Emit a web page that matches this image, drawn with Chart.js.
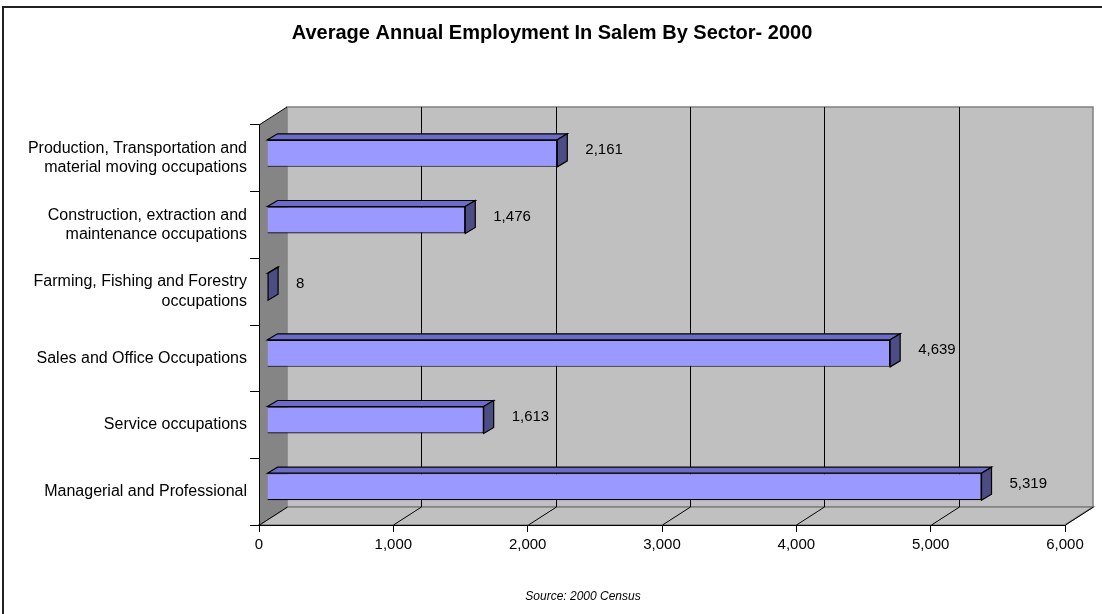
<!DOCTYPE html>
<html>
<head>
<meta charset="utf-8">
<script src="https://cdn.jsdelivr.net/npm/chart.js@4"></script>
<style>
  html, body { margin: 0; padding: 0; background: #fff; }
  #wrap { width: 1102px; height: 614px; }
</style>
</head>
<body>
<div id="wrap"><canvas id="myChart" width="1102" height="614"></canvas></div>
<script>
// data
const categories = [
    ['Production, Transportation and', 'material moving occupations'],
    ['Construction, extraction and', 'maintenance occupations'],
    ['Farming, Fishing and Forestry', 'occupations'],
    'Sales and Office Occupations',
    'Service occupations',
    'Managerial and Professional'
];
const employment = [2161, 1476, 8, 4639, 1613, 5319];
const axisMin = 0;
const axisMax = 6000;
const axisStep = 1000;
const chartTitle = 'Average Annual Employment In Salem By Sector- 2000';
const sourceNote = 'Source: 2000 Census';

const FONT = '"Liberation Sans", Arial, sans-serif';
Chart.defaults.font.family = FONT;
Chart.defaults.color = '#000';

// depth of the 3d box and of the bars
const wallDepth = { x: 28, y: -18 };
const barShift = { x: 8, y: -5 };
const barDepth = { x: 10, y: -6 };

const fmt = (v) => v.toLocaleString('en-US');

const poly = (ctx, pts, fill, stroke, lw) => {
    ctx.beginPath();
    ctx.moveTo(pts[0][0], pts[0][1]);
    for (let i = 1; i < pts.length; i++) ctx.lineTo(pts[i][0], pts[i][1]);
    ctx.closePath();
    if (fill) { ctx.fillStyle = fill; ctx.fill(); }
    if (stroke) { ctx.strokeStyle = stroke; ctx.lineWidth = lw || 1; ctx.stroke(); }
};

const box3d = {
    id: 'box3d',
    beforeDraw(chart) {
        const { ctx, chartArea: a, scales } = chart;
        const dx = wallDepth.x, dy = wallDepth.y;
        ctx.save();
        // outer frame
        ctx.strokeStyle = '#222';
        ctx.lineWidth = 2;
        ctx.beginPath();
        ctx.moveTo(3, chart.height);
        ctx.lineTo(3, 7);
        ctx.lineTo(chart.width, 7);
        ctx.stroke();

        // back wall
        poly(ctx, [[a.left + dx, a.top + dy], [a.right + dx, a.top + dy],
                   [a.right + dx, a.bottom + dy], [a.left + dx, a.bottom + dy]], '#c0c0c0', '#808080', 1.5);
        // floor
        poly(ctx, [[a.left, a.bottom], [a.left + dx, a.bottom + dy],
                   [a.right + dx, a.bottom + dy], [a.right, a.bottom]], '#c0c0c0', '#808080', 1.5);
        // side wall
        poly(ctx, [[a.left, a.top], [a.left + dx, a.top + dy],
                   [a.left + dx, a.bottom + dy], [a.left, a.bottom]], '#858585', null);
        ctx.strokeStyle = '#000';
        ctx.lineWidth = 1;
        ctx.beginPath();
        ctx.moveTo(a.left, a.top);
        ctx.lineTo(a.left + dx, a.top + dy);
        ctx.stroke();

        // gridlines on the back wall and floor
        const xs = scales.x;
        xs.ticks.forEach((t) => {
            const px = Math.round(xs.getPixelForValue(t.value)) + 0.5;
            ctx.strokeStyle = '#000';
            ctx.lineWidth = 1;
            ctx.beginPath();
            ctx.moveTo(px, a.bottom);
            ctx.lineTo(px + dx, a.bottom + dy);
            if (t.value > axisMin && t.value < axisMax) {
                ctx.lineTo(px + dx, a.top + dy);
            }
            ctx.stroke();
        });
        ctx.restore();
    },
    beforeDatasetsDraw(chart) {
        chart.ctx.save();
        chart.ctx.translate(barShift.x, barShift.y);
    },
    afterDatasetsDraw(chart) {
        const ctx = chart.ctx;
        const meta = chart.getDatasetMeta(0);
        meta.data.forEach((bar) => {
            const p = bar.getProps(['x', 'y', 'base', 'height'], true);
            const top = p.y - p.height / 2, bottom = p.y + p.height / 2;
            const dx = barDepth.x, dy = barDepth.y;
            poly(ctx, [[p.base, top], [p.base + dx, top + dy], [p.x + dx, top + dy], [p.x, top]],
                 '#6c6cc6', '#000', 1.2);
            poly(ctx, [[p.x, top], [p.x + dx, top + dy], [p.x + dx, bottom + dy], [p.x, bottom]],
                 '#4d4d85', '#000', 1.2);
        });
        ctx.restore();

        // value labels
        ctx.save();
        ctx.font = '15px ' + FONT;
        ctx.fillStyle = '#000';
        ctx.textAlign = 'left';
        ctx.textBaseline = 'middle';
        meta.data.forEach((bar, i) => {
            const p = bar.getProps(['x', 'y'], true);
            ctx.fillText(fmt(employment[i]), p.x + barShift.x + barDepth.x + 18, p.y + barShift.y - 3);
        });
        ctx.restore();
    },
    afterDraw(chart) {
        const ctx = chart.ctx;
        ctx.save();
        ctx.fillStyle = '#000';
        ctx.textAlign = 'center';
        ctx.textBaseline = 'middle';
        ctx.font = 'bold 20px ' + FONT;
        ctx.fillText(chartTitle, 552, 33);
        ctx.font = 'italic 12px ' + FONT;
        ctx.fillText(sourceNote, 583, 597);
        ctx.restore();
    }
};

new Chart(document.getElementById('myChart'), {
    type: 'bar',
    data: {
        labels: categories,
        datasets: [{
            label: 'Employment',
            data: employment,
            backgroundColor: '#9999ff',
            borderColor: '#000',
            borderWidth: 1.2,
            categoryPercentage: 0.81,
            barPercentage: 0.5,
        }]
    },
    options: {
        indexAxis: 'y',
        responsive: false,
        animation: false,
        devicePixelRatio: 1,
        layout: { padding: { left: 0, right: 37, top: 125, bottom: 0 } },
        plugins: {
            legend: { display: false },
            tooltip: { enabled: false },
            title: { display: false }
        },
        scales: {
            x: {
                min: axisMin,
                max: axisMax,
                ticks: {
                    stepSize: axisStep,
                    font: { size: 15 },
                    color: '#000',
                    padding: 4,
                    maxRotation: 0,
                    callback: (v) => fmt(v)
                },
                grid: { drawOnChartArea: false, drawTicks: true, tickLength: 7, color: '#000' },
                border: { display: true, color: '#000', width: 1 },
                afterFit: (scale) => { scale.height = 89; }
            },
            y: {
                ticks: { font: { size: 16 }, color: '#000', padding: 3 },
                grid: { drawOnChartArea: false, drawTicks: true, tickLength: 9, color: '#000' },
                border: { display: true, color: '#000', width: 1 },
                afterFit: (scale) => { scale.width = 259; }
            }
        }
    },
    plugins: [box3d]
});
</script>
</body>
</html>
